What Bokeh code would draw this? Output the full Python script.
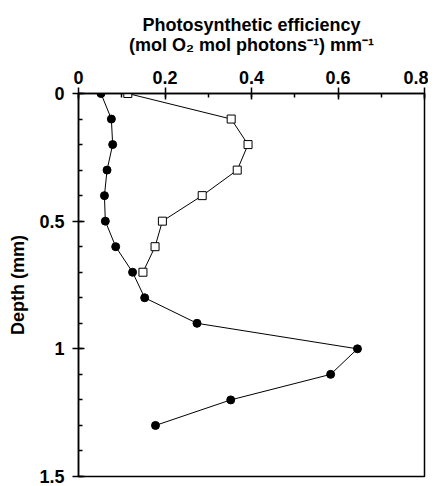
from bokeh.plotting import figure
from bokeh.models import Range1d, FixedTicker, LinearAxis
from bokeh.embed import file_html
from bokeh.resources import INLINE

# Filled circles series
depth_filled = [0.0, 0.1, 0.2, 0.3, 0.4, 0.5, 0.6, 0.7, 0.8, 0.9, 1.0, 1.1, 1.2, 1.3]
eff_filled = [0.052, 0.076, 0.079, 0.066, 0.060, 0.062, 0.086, 0.125, 0.153, 0.274, 0.645, 0.583, 0.352, 0.178]

# Open squares series
depth_open = [0.0, 0.1, 0.2, 0.3, 0.4, 0.5, 0.6, 0.7]
eff_open = [0.114, 0.353, 0.392, 0.367, 0.286, 0.194, 0.177, 0.149]

x_ticks = [0, 0.2, 0.4, 0.6, 0.8]
x_tick_labels = ["0", "0.2", "0.4", "0.6", "0.8"]
y_ticks = [0, 0.5, 1.0, 1.5]
y_tick_labels = ["0", "0.5", "1", "1.5"]

FONT = "Liberation Sans"

p = figure(width=428, height=486, output_backend="svg", toolbar_location=None,
           x_range=Range1d(0, 0.8), y_range=Range1d(1.5, 0),
           x_axis_location=None, y_axis_location=None,
           min_border_left=78, min_border_top=93, min_border_right=4, min_border_bottom=10)
p.grid.visible = False
p.outline_line_color = "black"
p.outline_line_width = 1.5
p.background_fill_color = "white"
p.border_fill_color = "white"

xaxis = LinearAxis(ticker=FixedTicker(ticks=x_ticks, minor_ticks=[i / 10 for i in range(9)]),
                   axis_label="Photosynthetic efficiency\n(mol O\u2082 mol photons\u207b\u00b9) mm\u207b\u00b9")
xaxis.major_label_overrides = {t: l for t, l in zip(x_ticks, x_tick_labels)}
yaxis = LinearAxis(ticker=FixedTicker(ticks=y_ticks, minor_ticks=[i / 10 for i in range(16)]),
                   axis_label="Depth (mm)")
yaxis.major_label_overrides = {t: l for t, l in zip(y_ticks, y_tick_labels)}

for ax in (xaxis, yaxis):
    ax.axis_line_width = 1.5
    ax.major_tick_line_width = 1.5
    ax.minor_tick_line_width = 1.5
    ax.major_tick_in = 6
    ax.major_tick_out = 6
    ax.minor_tick_in = 4
    ax.minor_tick_out = 0
    ax.major_label_text_font = FONT
    ax.major_label_text_font_style = "bold"
    ax.major_label_text_font_size = "18px"
    ax.major_label_text_color = "black"
    ax.axis_label_text_font = FONT
    ax.axis_label_text_font_style = "bold"
    ax.axis_label_text_font_size = "18px"
    ax.axis_label_text_color = "black"

xaxis.axis_label_text_line_height = 1.0
xaxis.major_label_standoff = 4
xaxis.axis_label_standoff = 13
yaxis.major_label_standoff = 8
yaxis.axis_label_standoff = 8

p.add_layout(xaxis, "above")
p.add_layout(yaxis, "left")

p.line(eff_open, depth_open, line_color="black", line_width=1)
p.scatter(eff_open, depth_open, marker="square", size=8, fill_color="white",
          line_color="black", line_width=1)
p.line(eff_filled, depth_filled, line_color="black", line_width=1)
p.scatter(eff_filled, depth_filled, marker="circle", size=8, fill_color="black",
          line_color="black")

open("out.html", "w").write(file_html(p, INLINE))
